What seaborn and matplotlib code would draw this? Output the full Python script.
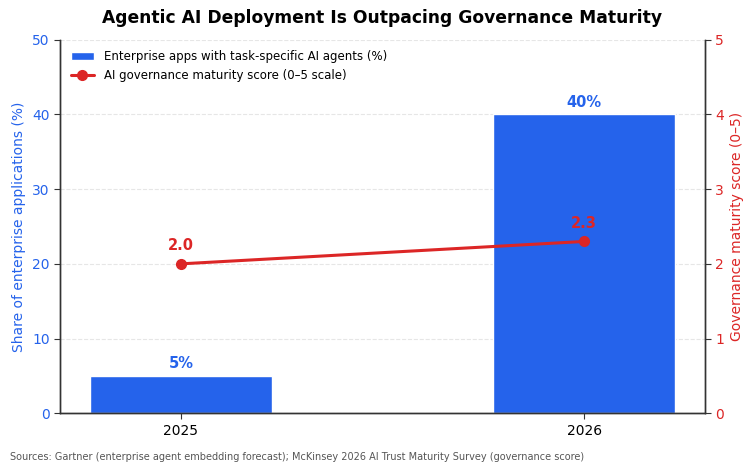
import matplotlib
matplotlib.use("Agg")
import matplotlib.pyplot as plt
import seaborn as sns
import pandas as pd

years = ["2025", "2026"]
agent_share = [5, 40]
governance_score = [2.0, 2.3]
bar_label = "Enterprise apps with task-specific AI agents (%)"
line_label = "AI governance maturity score (0–5 scale)"

sns.set_style("white")
plt.rcParams['font.family'] = ['DejaVu Sans']
plt.rcParams['text.color'] = 'black'
plt.rcParams['xtick.color'] = 'black'

BLUE = "#2563EB"
RED = "#DC2626"

df = pd.DataFrame({"year": years, "share": agent_share, "score": governance_score})

fig, ax1 = plt.subplots(figsize=(7.5, 4.68), dpi=100)
fig.subplots_adjust(left=0.08, right=0.94, top=0.915, bottom=0.117)

sns.barplot(data=df, x="year", y="share", color=BLUE, width=0.45, ax=ax1,
            label=bar_label, saturation=1)
ax1.set_ylim(0, 50)
ax1.set_xlim(-0.3, 1.3)
ax1.set_xlabel("")
ax1.set_ylabel("Share of enterprise applications (%)", color=BLUE, fontsize=10)
ax1.tick_params(axis="y", colors=BLUE, labelsize=10)
ax1.tick_params(axis="y", color="#333333")
ax1.tick_params(axis="x", labelsize=10, color="#333333", labelcolor="black", length=4, bottom=True)
ax1.tick_params(axis="y", length=4, left=True)
ax1.yaxis.grid(True, linestyle="--", color="#e6e6e6", linewidth=0.8)
ax1.set_axisbelow(True)

for i, v in enumerate(agent_share):
    ax1.text(i, v + 0.6, f"{v}%", ha="center", va="bottom", color=BLUE,
             fontweight="bold", fontsize=10.5)

ax2 = ax1.twinx()
ax2.plot([0, 1], governance_score, color=RED, linewidth=2.2, marker="o",
         markersize=7, label=line_label)
ax2.set_ylim(0, 5)
ax2.set_ylabel("Governance maturity score (0–5)", color=RED, fontsize=10)
ax2.tick_params(axis="y", colors=RED, labelsize=10)
ax2.tick_params(axis="y", color="#333333", length=4, right=True)
for i, v in enumerate(governance_score):
    ax2.text(i, v + 0.14, f"{v:.1f}", ha="center", va="bottom", color=RED,
             fontweight="bold", fontsize=10.5)

for ax in (ax1, ax2):
    ax.spines["top"].set_visible(False)
    for s in ("left", "right", "bottom"):
        ax.spines[s].set_color("#333333")
        ax.spines[s].set_linewidth(1.0)

h1, l1 = ax1.get_legend_handles_labels()
h2, l2 = ax2.get_legend_handles_labels()
leg = ax1.legend(h1 + h2, l1 + l2, loc="upper left", fontsize=8.5, frameon=True,
                 edgecolor="white", framealpha=1)

ax1.set_title("Agentic AI Deployment Is Outpacing Governance Maturity",
              fontweight="bold", fontsize=12.3, pad=12, color="black")

fig.text(0.013, 0.018, "Sources: Gartner (enterprise agent embedding forecast); McKinsey 2026 AI Trust Maturity Survey (governance score)",
         fontsize=7, color="#555555")

fig.savefig("out.png", dpi=100)
